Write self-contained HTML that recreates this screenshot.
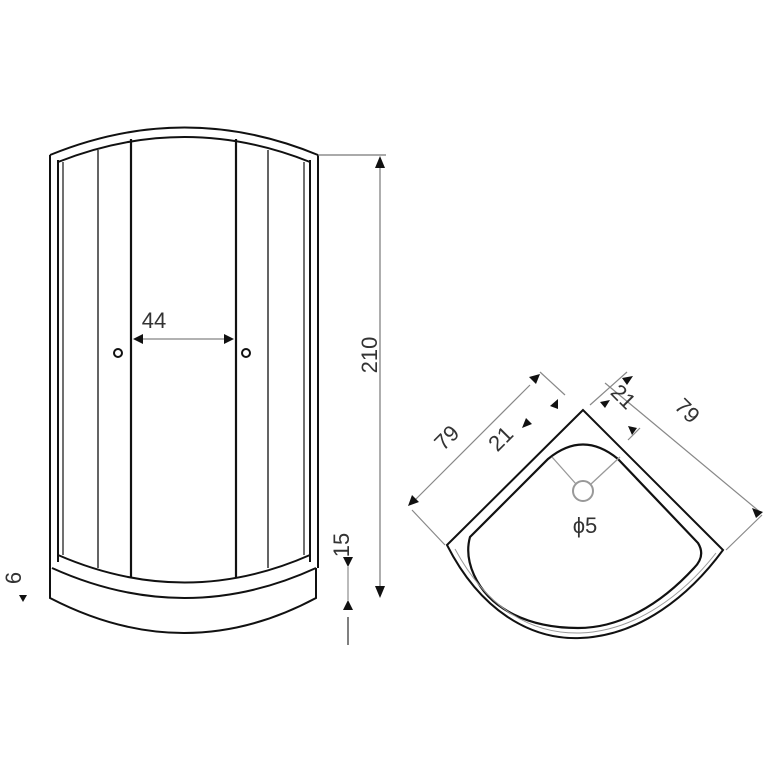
<!DOCTYPE html>
<html><head><meta charset="utf-8"><style>html,body{margin:0;padding:0;background:#fff}svg{display:block}</style></head><body>
<svg width="768" height="768" viewBox="0 0 768 768" xmlns="http://www.w3.org/2000/svg" font-family="Liberation Sans, sans-serif">
<rect width="768" height="768" fill="#fff"/>
<g fill="none" stroke="#111" stroke-width="2">
<path d="M50 155 Q185 100 318 155"/>
<path d="M58 162 Q185 112 310 162"/>
<line x1="50" y1="155" x2="50" y2="568"/>
<line x1="58" y1="160" x2="58" y2="562"/>
<line x1="63" y1="162" x2="63" y2="555" stroke-width="1.2"/>
<line x1="318" y1="155" x2="318" y2="568"/>
<line x1="310" y1="160" x2="310" y2="562"/>
<line x1="304" y1="162" x2="304" y2="555" stroke-width="1.2"/>
<line x1="98" y1="150" x2="98" y2="568" stroke-width="1.3"/>
<line x1="131" y1="139" x2="131" y2="578" stroke-width="2.2"/>
<line x1="236" y1="139" x2="236" y2="578" stroke-width="2.2"/>
<line x1="268" y1="150" x2="268" y2="568" stroke-width="1.3"/>
<path d="M58 555 Q185 610 310 555"/>
<path d="M52 568 Q185 628 316 568"/>
<path d="M50 568 L50 598 Q185 668 316 598 L316 568"/>
<circle cx="118" cy="353" r="4"/>
<circle cx="246" cy="353" r="4"/>
</g>
<line x1="140" y1="339" x2="226" y2="339" stroke="#999" stroke-width="1.5"/>
<path d="M133 339 l10 -5 v10z M234 339 l-10 -5 v10z" fill="#111"/>
<text x="154" y="328" font-size="22" fill="#333" text-anchor="middle">44</text>
<line x1="318" y1="155" x2="386" y2="155" stroke="#777" stroke-width="1.2"/>
<line x1="380" y1="160" x2="380" y2="592" stroke="#777" stroke-width="1.2"/>
<path d="M380 156 l-5 12 h10z M380 598 l-5 -12 h10z" fill="#111"/>
<text transform="translate(377 355) rotate(-90)" font-size="22" fill="#333" text-anchor="middle">210</text>
<text transform="translate(349 545) rotate(-90)" font-size="22" fill="#333" text-anchor="middle">15</text>
<path d="M348 567 l-5 -10 h10z M348 600 l-5 10 h10z" fill="#111"/>
<line x1="348" y1="567" x2="348" y2="600" stroke="#777" stroke-width="1"/>
<line x1="348" y1="617" x2="348" y2="645" stroke="#555" stroke-width="1.5"/>
<text transform="translate(21 578) rotate(-90)" font-size="22" fill="#333" text-anchor="middle">6</text>
<path d="M23 602 l-4 -7 h8z" fill="#111"/>
<!-- plan view -->
<g fill="none" stroke="#111" stroke-width="2">
<path d="M583 410 L447 545 C480 610 530 640 580 638 C640 636 690 595 723 550 Z"/>
<path d="M470 537 L548 459 Q583 430 618 459 L698 543 Q706 556 694 568 C660 605 620 628 578 628 C530 628 490 610 474 575 Q465 555 470 537 Z" stroke-width="2.2"/>
</g>
<path d="M455 549 C488 610 532 634 580 633 C636 631 684 594 716 553" fill="none" stroke="#999" stroke-width="1"/>
<circle cx="583" cy="491" r="10" fill="none" stroke="#999" stroke-width="2"/>
<line x1="552" y1="457" x2="576" y2="484" stroke="#999" stroke-width="1.3"/>
<line x1="620" y1="457" x2="591" y2="484" stroke="#999" stroke-width="1.3"/>
<text x="585" y="533" font-size="22" fill="#333" text-anchor="middle">ϕ5</text>
<g stroke="#888" stroke-width="1.2">
<line x1="412" y1="503" x2="530" y2="385"/>
<line x1="412" y1="510" x2="445" y2="545"/>
<line x1="540" y1="372" x2="565" y2="395"/>
<line x1="605" y1="383" x2="760" y2="512"/>
<line x1="627" y1="372" x2="590" y2="405"/>
<line x1="762" y1="515" x2="726" y2="550"/>
<line x1="640" y1="428" x2="628" y2="440"/>
</g>
<path d="M408 506 l4 -11 l7 7z M540 374 l-11 3 l7 7z M558 399 l0 10 l-8 -3z M532 424 l-10 4 l4 -10z M600 402 l10 -2 l-5 8z M633 376 l-11 2 l5 7z M763 512 l-11 -4 l4 10z M637 428 l-9 -2 l4 9z" fill="#111"/>
<text transform="translate(452 443) rotate(-45)" font-size="22" fill="#333" text-anchor="middle">79</text>
<text transform="translate(506 444) rotate(-45)" font-size="22" fill="#333" text-anchor="middle">21</text>
<text transform="translate(618 402) rotate(45)" font-size="22" fill="#333" text-anchor="middle">21</text>
<text transform="translate(682 416) rotate(45)" font-size="22" fill="#333" text-anchor="middle">79</text>
</svg>
</body></html>
